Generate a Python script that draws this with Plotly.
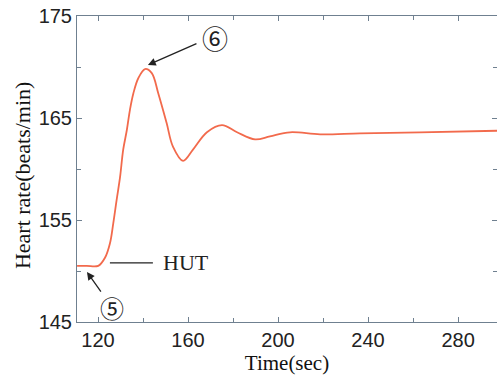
import plotly.graph_objects as go

time_sec = [110.7, 115.0, 120.1, 123.1, 125.3, 126.8, 128.3, 129.8, 131.2, 132.8, 134.2,
            135.7, 137.9, 140.9, 143.9, 146.8, 150.5, 153.3, 157.8, 162.2, 168.4, 175.1,
            181.8, 189.8, 196.4, 205.3, 218.7, 236.4, 263.0, 297.3]
heart_rate = [150.5, 150.5, 150.5, 151.3, 152.7, 154.7, 157.0, 159.2, 161.9, 163.8, 165.8,
              167.4, 168.9, 169.8, 169.4, 167.4, 164.5, 162.2, 160.8, 161.9, 163.6, 164.3,
              163.6, 162.9, 163.2, 163.6, 163.4, 163.5, 163.6, 163.75]

x_ticks = [120, 160, 200, 240, 280]
y_ticks = [145, 155, 165, 175]

axis_color = "#6f8090"
serif = "Liberation Serif, Times New Roman, serif"
sans = "Liberation Sans, Arial, sans-serif"
circ = "Noto Sans CJK JP, DejaVu Sans, sans-serif"

fig = go.Figure()
fig.add_trace(go.Scatter(x=time_sec, y=heart_rate, mode="lines",
                         line=dict(color="#f26a4c", width=1.8, shape="spline", smoothing=1.0),
                         showlegend=False, hoverinfo="skip"))

fig.update_layout(
    width=497, height=381,
    margin=dict(l=77, r=0, t=16, b=59),
    paper_bgcolor="white", plot_bgcolor="white",
    xaxis=dict(range=[110.67, 297.3], tickvals=x_ticks, ticks="inside", ticklen=5,
               tickcolor=axis_color, showline=True, linecolor=axis_color, linewidth=1,
               mirror="allticks", showgrid=False, zeroline=False, automargin=False,
               minor=dict(tickvals=[140, 180, 220, 260], ticks="inside", ticklen=4, tickcolor=axis_color),
               tickfont=dict(family=sans, size=20, color="#222"),
               title=dict(text="Time(sec)", font=dict(family=serif, size=21, color="#111"), standoff=2)),
    yaxis=dict(range=[145, 175], tickvals=y_ticks, ticks="inside", ticklen=5,
               tickcolor=axis_color, showline=True, linecolor=axis_color, linewidth=1,
               mirror="allticks", showgrid=False, zeroline=False, automargin=False,
               minor=dict(tickvals=[150, 160, 170], ticks="inside", ticklen=4, tickcolor=axis_color),
               tickfont=dict(family=sans, size=20, color="#222")),
)

# y-axis title placed as in the reference (slightly below the plot centre)
fig.add_annotation(x=-0.131, y=0.48, xref="paper", yref="paper", text="Heart rate(beats/min)",
                   textangle=-90, showarrow=False, xanchor="center", yanchor="middle",
                   font=dict(family=serif, size=22, color="#111"))

# arrows (drawn separately so their tails sit where the reference shows them)
fig.add_annotation(x=142.2, y=170.2, xref="x", yref="y", text="", showarrow=True,
                   ax=50, ay=-22, arrowhead=2, arrowsize=1.2, arrowwidth=1.3, arrowcolor="#222")
fig.add_annotation(x=115.1, y=149.9, xref="x", yref="y", text="", showarrow=True,
                   ax=15, ay=21, arrowhead=2, arrowsize=1.2, arrowwidth=1.3, arrowcolor="#222")
fig.add_annotation(x=172.0, y=172.9, xref="x", yref="y", text="⑥", showarrow=False,
                   font=dict(family=circ, size=26, color="#222"))
fig.add_annotation(x=126.1, y=146.4, xref="x", yref="y", text="⑤", showarrow=False,
                   font=dict(family=circ, size=24, color="#222"))
fig.add_shape(type="line", x0=125.3, x1=144.4, y0=150.8, y1=150.8, xref="x", yref="y",
              line=dict(color="#222", width=1.3))
fig.add_annotation(x=147.9, y=150.8, xref="x", yref="y", text="HUT", showarrow=False,
                   xanchor="left", yanchor="middle", font=dict(family=serif, size=22, color="#222"))

fig.write_html("out.html", config={"displayModeBar": False},
               post_script="document.body.style.margin='0';document.body.style.padding='0';document.body.style.overflow='hidden';")
